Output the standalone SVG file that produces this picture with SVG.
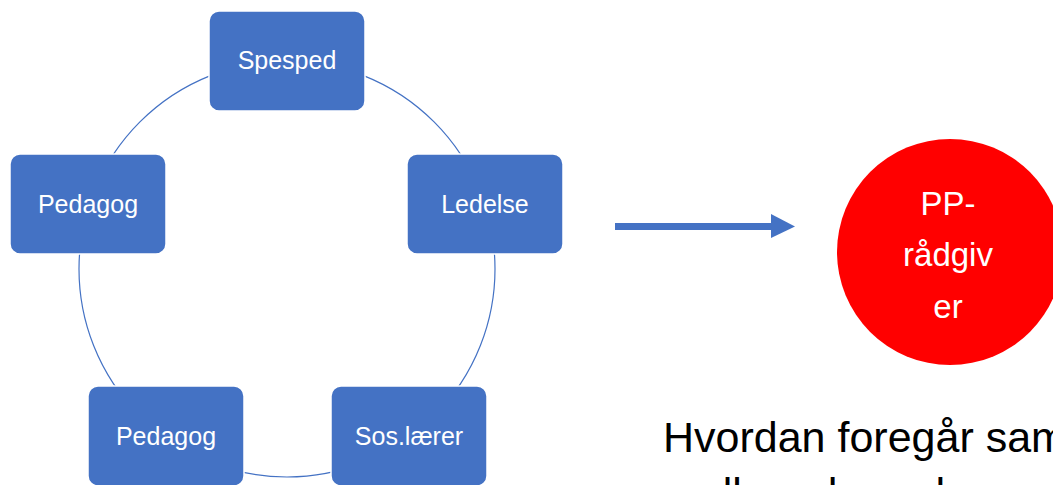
<svg xmlns="http://www.w3.org/2000/svg" width="1053" height="485" viewBox="0 0 1053 485">
<style>
.box{fill:#4472C4;stroke:#ffffff;stroke-width:1.5}
.lbl{font-family:"Liberation Sans",Arial,sans-serif;font-size:25px;fill:#ffffff;text-anchor:middle}
.big{font-family:"Liberation Sans",Arial,sans-serif;font-size:43px;fill:#000000}
.pp{font-family:"Liberation Sans",Arial,sans-serif;font-size:33px;fill:#ffffff;text-anchor:middle}
</style>
<rect width="1053" height="485" fill="#ffffff"/>
<g id="connectors">
<circle cx="287" cy="269" r="208" fill="none" stroke="#4472C4" stroke-width="1.2"/>
<g id="arrow">
<rect x="615" y="223" width="158" height="7" fill="#4472C4"/>
<polygon points="771,214 795,226.5 771,238" fill="#4472C4"/>
</g>
</g>
<g id="node-spesped">
<rect class="box" x="209" y="11" width="156" height="100" rx="10"/>
<text class="lbl" x="287" y="69">Spesped</text>
</g>
<g id="node-ledelse">
<rect class="box" x="407" y="154" width="156" height="100" rx="10"/>
<text class="lbl" x="485" y="213">Ledelse</text>
</g>
<g id="node-sos">
<rect class="box" x="331" y="386" width="156" height="100" rx="10"/>
<text class="lbl" x="409" y="445">Sos.lærer</text>
</g>
<g id="node-pedagog-bottom">
<rect class="box" x="88" y="386" width="156" height="100" rx="10"/>
<text class="lbl" x="166" y="445">Pedagog</text>
</g>
<g id="node-pedagog-left">
<rect class="box" x="10" y="154" width="156" height="100" rx="10"/>
<text class="lbl" x="88" y="213">Pedagog</text>
</g>
<g id="node-pp">
<circle cx="950" cy="252" r="113" fill="#FF0000"/>
<text class="pp" x="948" y="215">PP-</text>
<text class="pp" x="948" y="266">rådgiv</text>
<text class="pp" x="948" y="318">er</text>
</g>
<g id="question">
<text class="big" x="663" y="452">Hvordan foregår samarbeidet</text>
<text class="big" x="663" y="508">mellom de andre</text>
</g>
</svg>
